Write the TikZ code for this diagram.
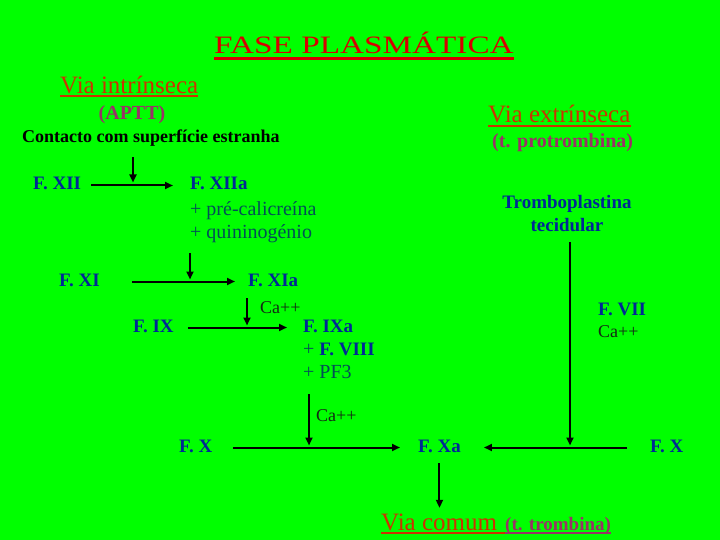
\documentclass[tikz,border=0pt]{standalone}
\usepackage{fontspec}
\setmainfont{Liberation Serif}
\usepackage{graphicx}
\usepackage{xcolor}
\usetikzlibrary{arrows.meta, positioning, calc}

\definecolor{fondo}{RGB}{0,255,0}
\definecolor{rojo}{RGB}{215,0,0}
\definecolor{viacol}{RGB}{204,51,0}
\definecolor{malva}{RGB}{153,51,102}
\definecolor{azul}{RGB}{0,40,150}
\definecolor{verdeazul}{RGB}{0,80,85}
\definecolor{oscuro}{RGB}{20,40,20}

\begin{document}
\begin{tikzpicture}[
        x=1pt, y=-1pt,
        >={Triangle[length=8pt,width=7pt]},
        % Estilos de texto (linea base a la izquierda)
        txt/.style={inner sep=0pt, anchor=base west, text height=13pt, text depth=4pt},
        factor/.style={txt, text=azul, font=\fontsize{19}{23}\selectfont\bfseries},
        aditivo/.style={txt, text=verdeazul, font=\fontsize{20}{23}\selectfont},
        ionte/.style={txt, text=oscuro, font=\fontsize{18}{22}\selectfont},
        viatxt/.style={txt, text=viacol, font=\fontsize{25}{30}\selectfont, text height=18pt, text depth=5pt},
        exame/.style={txt, text=malva, font=\fontsize{20}{24}\selectfont\bfseries},
        flow/.style={->, line width=2pt},
        subr/.style={line width=2pt}
    ]
        % Fondo y marco
        \fill[fondo] (0,0) rectangle (720,540);
        \useasboundingbox (0,0) rectangle (720,540);

        % Titulo
        \node[txt, text=rojo, font=\fontsize{25}{30}\selectfont, text height=18pt] (titulo) at (214,54) {\scalebox{1.33}[1]{FASE PLASMÁTICA}};
        \draw[rojo, subr, line width=2.5pt] ([yshift=-4.5pt]titulo.base west) -- ([yshift=-4.5pt]titulo.base east);

        % Via intrinseca
        \node[viatxt] (viaint) at (60,94) {Via intrínseca};
        \draw[viacol, subr] ([yshift=-2.5pt]viaint.base west) -- ([yshift=-2.5pt]viaint.base east);
        \node[exame, anchor=base] (aptt) at (132,120) {(APTT)};
        \node[txt, font=\fontsize{18}{22}\selectfont\bfseries] (contacto) at (22,143) {Contacto com superfície estranha};

        \node[factor] (fxii) at (33,190) {F. XII};
        \node[factor] (fxiia) at (190,190) {F. XIIa};
        \node[aditivo] (pre) at (190,215) {+ pré-calicreína};
        \node[aditivo] (quin) at (190,238) {+ quininogénio};

        \node[factor] (fxi) at (59,286) {F. XI};
        \node[factor] (fxia) at (248,286) {F. XIa};

        \node[ionte] (caA) at (260,313) {Ca++};
        \node[factor] (fix) at (133,332) {F. IX};
        \node[factor] (fixa) at (303,332) {F. IXa};
        \node[aditivo] (fviii) at (303,355) {+ \textcolor{azul}{\fontsize{19}{23}\selectfont\bfseries F. VIII}};
        \node[aditivo] (pf3) at (303,378) {+ PF3};

        % Via extrinseca
        \node[viatxt] (viaext) at (488,123) {Via extrínseca};
        \draw[viacol, subr] ([yshift=-3pt]viaext.base west) -- ([yshift=-3pt]viaext.base east);
        \node[exame] (tprot) at (492,148) {(t. protrombina)};
        \node[factor, anchor=base] (trombo) at (567,208) {Tromboplastina};
        \node[factor, anchor=base] (tecid) at (567,232) {tecidular};
        \node[factor] (fvii) at (598,315) {F. VII};
        \node[ionte] (caC) at (598,337) {Ca++};

        % Via comum
        \node[ionte] (caB) at (316,421) {Ca++};
        \node[factor] (fxl) at (179,452) {F. X};
        \node[factor] (fxa) at (418,452) {F. Xa};
        \node[factor] (fxr) at (650,452) {F. X};
        \node[viatxt] (viacom) at (381,530) {Via comum};
        \node[exame, font=\fontsize{19}{23}\selectfont\bfseries] (ttromb) at (505,530) {(t. trombina)};
        \draw[viacol, subr] ([yshift=-3pt]viacom.base west) -- ([yshift=-3pt]ttromb.base west);
        \draw[malva, subr] ([yshift=-3pt]ttromb.base west) -- ([yshift=-3pt]ttromb.base east);

        % Puntos de union de las flechas verticales
        \coordinate (j1) at (133,185.5);
        \coordinate (j4) at (309,447.5);
        \coordinate (j5) at (570,447.5);

        % Flechas de activacion
        \draw[flow, shorten <=10pt, shorten >=17pt] (fxii.east) -- (fxii.east -| fxiia.west);
        \draw[flow, shorten <=10pt, shorten >=3pt] (contacto.south -| j1) -- (j1);

        \draw[flow, shorten <=32pt, shorten >=13pt] (fxi.east) -- (fxi.east -| fxia.west);
        \draw[flow, shorten <=11pt, shorten >=2pt] (quin.south west) -- (quin.south west |- fxi.east);

        \draw[flow, shorten <=14pt, shorten >=16pt] (fix.east) -- (fix.east -| fixa.west);
        \draw[flow, shorten <=8pt, shorten >=2pt] ([xshift=-1pt]fxia.south west) -- ([xshift=-1pt]fxia.south west |- fix.east);

        \draw[flow, shorten <=21pt, shorten >=18pt] (fxl.east) -- (fxl.east -| fxa.west);
        \draw[flow, shorten <=12pt, shorten >=2pt] (pf3.south -| j4) -- (j4);

        \draw[flow, shorten <=23pt, shorten >=23pt] (fxr.west) -- (fxr.west -| fxa.east);
        \draw[flow, shorten <=6pt, shorten >=2pt] (tecid.south -| j5) -- (j5);

        \draw[flow, shorten <=7pt, shorten >=4pt] (fxa.south) -- (fxa.south |- viacom.north);
    \end{tikzpicture}
\end{document}
